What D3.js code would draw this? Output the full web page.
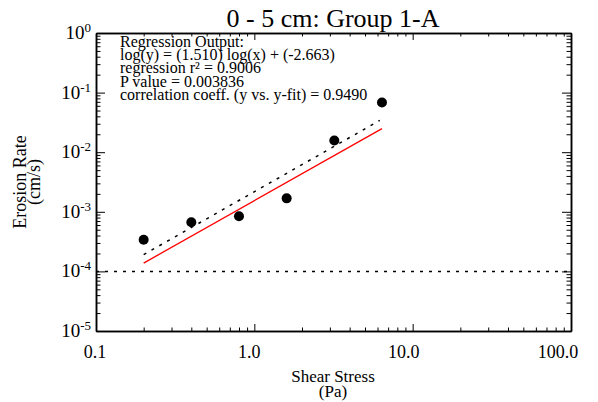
<!DOCTYPE html>
<html>
<head>
<meta charset="utf-8">
<script src="https://cdn.jsdelivr.net/npm/d3@7"></script>
<style>
  body { margin: 0; background: #fff; }
  svg { display: block; font-family: "Liberation Serif", "Times New Roman", serif; }
</style>
</head>
<body>
<svg id="chart" width="598" height="402"></svg>
<script>
// Measured erosion data
const shearStress = [0.2, 0.4, 0.8, 1.6, 3.2, 6.4];
const erosionRate = [3.4e-4, 6.7e-4, 8.4e-4, 1.68e-3, 1.57e-2, 6.8e-2];

// Regression fit: log(y) = slope*log(x) + intercept
const fitSlope = 1.510;
const fitIntercept = -2.663;
const fitRange = [0.2, 6.2];

// Reference (red) line endpoints
const refX = [0.2, 6.4];
const refY = [1.38e-4, 2.49e-2];

// Threshold level
const thresholdY = 1e-4;

const xTickValues = [0.1, 1, 10, 100];
const xTickLabels = ["0.1", "1.0", "10.0", "100.0"];
const yTickExponents = [0, -1, -2, -3, -4, -5];

const regressionText = [
  "Regression Output:",
  "log(y) = (1.510) log(x) + (-2.663)",
  "regression r\u00b2 = 0.9006",
  "P value = 0.003836",
  "correlation coeff. (y vs. y-fit) = 0.9490"
];

const svg = d3.select("#chart");
const L = 96, R = 571, T = 33, B = 331;

const x = d3.scaleLog().domain([0.1, 100]).range([L, R]);
const y = d3.scaleLog().domain([1e-5, 1]).range([B, T]);
// tick labels sit on a slightly narrower span than the axis itself
const xLab = d3.scaleLog().domain([0.1, 100]).range([95, 558]);

// minor tick values for each decade
function minors(lo, hi) {
  const out = [];
  for (let e = lo; e < hi; e++) {
    for (let k = 2; k <= 9; k++) out.push(k * Math.pow(10, e));
  }
  return out;
}
const xMinor = minors(-1, 2);
const yMinor = minors(-5, 0);
const yMajor = yTickExponents.map(e => Math.pow(10, e));

const axisStyle = g => {
  g.selectAll("path.domain").attr("stroke", "#000").attr("stroke-width", 1.5);
  g.selectAll(".tick line").attr("stroke", "#000").attr("stroke-width", 1);
  g.selectAll(".tick text").remove();
};

const xMajLen = 7, xMinLen = 3.5, yMajLen = 9, yMinLen = 4.5;

// bottom
svg.append("g").attr("transform", `translate(0,${B})`)
  .call(d3.axisBottom(x).tickValues(xTickValues).tickSize(-xMajLen).tickSizeOuter(0)).call(axisStyle);
svg.append("g").attr("transform", `translate(0,${B})`)
  .call(d3.axisBottom(x).tickValues(xMinor).tickSize(-xMinLen).tickSizeOuter(0)).call(axisStyle);
// top
svg.append("g").attr("transform", `translate(0,${T})`)
  .call(d3.axisTop(x).tickValues(xTickValues).tickSize(-xMajLen).tickSizeOuter(0)).call(axisStyle);
svg.append("g").attr("transform", `translate(0,${T})`)
  .call(d3.axisTop(x).tickValues(xMinor).tickSize(-xMinLen).tickSizeOuter(0)).call(axisStyle);
// left
svg.append("g").attr("transform", `translate(${L},0)`)
  .call(d3.axisLeft(y).tickValues(yMajor).tickSize(-yMajLen).tickSizeOuter(0)).call(axisStyle);
svg.append("g").attr("transform", `translate(${L},0)`)
  .call(d3.axisLeft(y).tickValues(yMinor).tickSize(-yMinLen).tickSizeOuter(0)).call(axisStyle);
// right
svg.append("g").attr("transform", `translate(${R},0)`)
  .call(d3.axisRight(y).tickValues(yMajor).tickSize(-yMajLen).tickSizeOuter(0)).call(axisStyle);
svg.append("g").attr("transform", `translate(${R},0)`)
  .call(d3.axisRight(y).tickValues(yMinor).tickSize(-yMinLen).tickSizeOuter(0)).call(axisStyle);

// x tick labels
svg.append("g").selectAll("text").data(xTickValues).join("text")
  .attr("x", d => xLab(d)).attr("y", B + 27)
  .attr("text-anchor", "middle").attr("font-size", 18)
  .text((d, i) => xTickLabels[i]);

// y tick labels: 10^e
const yl = svg.append("g").selectAll("text").data(yTickExponents).join("text")
  .attr("x", L - 5).attr("y", d => y(Math.pow(10, d)) + 6)
  .attr("text-anchor", "end").attr("font-size", 19);
yl.append("tspan").text("10");
yl.append("tspan").attr("dy", -7).attr("font-size", 13).text(d => d === 0 ? "0" : "-" + Math.abs(d));

// titles
svg.append("text").attr("x", 333).attr("y", 27)
  .attr("text-anchor", "middle").attr("font-size", 26).text("0 - 5 cm: Group 1-A");
svg.append("text").attr("x", 333).attr("y", 382)
  .attr("text-anchor", "middle").attr("font-size", 17).text("Shear Stress");
svg.append("text").attr("x", 333).attr("y", 397)
  .attr("text-anchor", "middle").attr("font-size", 17).text("(Pa)");
const yt = svg.append("text").attr("transform", `translate(0,${(T + B) / 2}) rotate(-90)`)
  .attr("text-anchor", "middle").attr("font-size", 18);
yt.append("tspan").attr("x", 0).attr("y", 26).text("Erosion Rate");
yt.append("tspan").attr("x", 0).attr("y", 40).text("(cm/s)");

// regression annotation
svg.append("g").selectAll("text").data(regressionText).join("text")
  .attr("x", 120).attr("y", (d, i) => 47 + i * 13.2)
  .attr("font-size", 16).text(d => d);

// threshold dotted line
svg.append("line")
  .attr("x1", x(0.1)).attr("x2", x(100))
  .attr("y1", y(thresholdY)).attr("y2", y(thresholdY))
  .attr("stroke", "#000").attr("stroke-width", 1.5).attr("stroke-dasharray", "3,6");

// regression fit (dotted)
const fitLine = d3.line().x(d => x(d)).y(d => y(Math.pow(10, fitSlope * Math.log10(d) + fitIntercept)));
svg.append("path").attr("d", fitLine(fitRange))
  .attr("fill", "none").attr("stroke", "#000").attr("stroke-width", 1.5).attr("stroke-dasharray", "3,6");

// reference line (red)
svg.append("path").attr("d", d3.line().x(d => x(d[0])).y(d => y(d[1]))(refX.map((v, i) => [v, refY[i]])))
  .attr("fill", "none").attr("stroke", "#ff0000").attr("stroke-width", 1.3);

// data points
svg.append("g").selectAll("circle").data(shearStress).join("circle")
  .attr("cx", d => x(d)).attr("cy", (d, i) => y(erosionRate[i])).attr("r", 5)
  .attr("fill", "#000");
</script>
</body>
</html>
